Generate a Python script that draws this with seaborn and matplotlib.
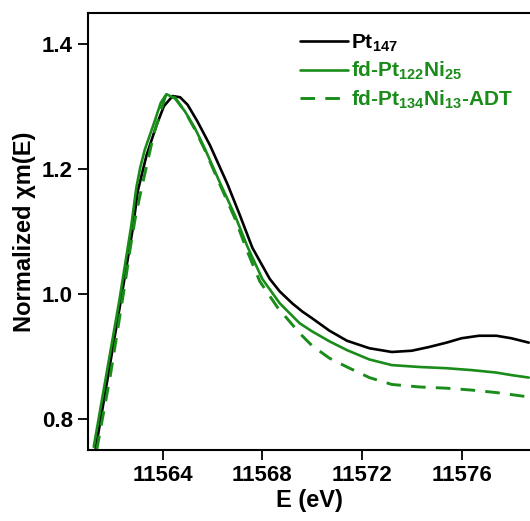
import matplotlib
matplotlib.use("Agg")
import matplotlib.pyplot as plt
import seaborn as sns
import pandas as pd
from matplotlib.lines import Line2D

# ---- data ----
e_pt147 = [11561.3, 11562.3, 11562.8, 11563.0, 11563.35, 11563.75, 11564.05, 11564.4,
           11564.7, 11565.0, 11565.4, 11565.9, 11566.6, 11567.1, 11567.6, 11568.3,
           11568.7, 11569.2, 11569.6, 11570.0, 11570.7, 11571.4, 11572.3, 11573.2,
           11574.0, 11574.7, 11575.4, 11576.0, 11576.7, 11577.4, 11578.0, 11578.7]
y_pt147 = [0.750, 0.985, 1.105, 1.165, 1.222, 1.270, 1.301, 1.317,
           1.315, 1.303, 1.276, 1.238, 1.176, 1.126, 1.074, 1.024,
           1.004, 0.985, 0.972, 0.961, 0.941, 0.925, 0.913, 0.907,
           0.909, 0.915, 0.922, 0.929, 0.933, 0.933, 0.929, 0.922]

e_ptni = [11561.23, 11562.26, 11562.74, 11562.94, 11563.1, 11563.28, 11563.68, 11563.92,
          11564.15, 11564.5, 11564.9, 11565.3, 11565.7, 11566.3, 11566.9, 11567.4,
          11568.0, 11568.7, 11569.5, 11570.0, 11570.7, 11571.4, 11572.3, 11573.2,
          11574.3, 11575.4, 11576.4, 11577.4, 11578.0, 11578.7]
y_ptni = [0.755, 0.990, 1.110, 1.170, 1.203, 1.231, 1.277, 1.306,
          1.320, 1.313, 1.292, 1.265, 1.232, 1.178, 1.126, 1.076,
          1.024, 0.985, 0.953, 0.940, 0.924, 0.910, 0.895, 0.886,
          0.883, 0.881, 0.878, 0.874, 0.870, 0.866]

e_adt = [11561.35, 11561.9, 11562.5, 11562.7, 11562.9, 11563.1, 11563.37, 11563.64,
         11563.95, 11564.15, 11564.5, 11564.9, 11565.3, 11565.7, 11566.3, 11566.9,
         11567.4, 11567.9, 11568.6, 11569.5, 11570.0, 11570.7, 11571.4, 11572.3,
         11573.2, 11574.3, 11575.4, 11576.4, 11577.4, 11578.7]
y_adt = [0.750, 0.870, 1.020, 1.074, 1.122, 1.160, 1.208, 1.256,
         1.296, 1.322, 1.314, 1.292, 1.263, 1.230, 1.175, 1.121,
         1.068, 1.020, 0.979, 0.937, 0.917, 0.897, 0.883, 0.866,
         0.855, 0.851, 0.849, 0.846, 0.842, 0.835]

x_ticks = [11564, 11568, 11572, 11576]
y_ticks = [0.8, 1.0, 1.2, 1.4]

GREEN = "#1a8c1a"

sns.set_theme(style="white")
plt.rcParams["font.family"] = ["Liberation Sans", "DejaVu Sans"]
plt.rcParams["font.weight"] = "bold"
plt.rcParams["mathtext.fontset"] = "custom"
plt.rcParams["mathtext.rm"] = "Liberation Sans:bold"
plt.rcParams["mathtext.it"] = "Liberation Sans:bold"
plt.rcParams["mathtext.bf"] = "Liberation Sans:bold"
plt.rcParams["lines.solid_joinstyle"] = "round"
plt.rcParams["lines.dash_joinstyle"] = "round"

fig = plt.figure(figsize=(5.30, 5.21), dpi=100)
ax = fig.add_axes([88/530, 1-450/521, 1-88/530, (450-13)/521])

df1 = pd.DataFrame({"E": e_pt147, "y": y_pt147})
df2 = pd.DataFrame({"E": e_ptni, "y": y_ptni})
df3 = pd.DataFrame({"E": e_adt, "y": y_adt})

sns.lineplot(data=df1, x="E", y="y", ax=ax, color="black", lw=1.9, sort=False)
sns.lineplot(data=df2, x="E", y="y", ax=ax, color=GREEN, lw=1.9, sort=False)
sns.lineplot(data=df3, x="E", y="y", ax=ax, color=GREEN, lw=2.1, sort=False,
             dashes=False, linestyle=(0, (5, 3.5)))

ax.set_xlim(11561.0, 11578.75)
ax.set_ylim(0.75, 1.45)
ax.set_xticks(x_ticks)
ax.set_yticks(y_ticks)
ax.set_xticklabels([str(t) for t in x_ticks])
ax.set_yticklabels([f"{t:.1f}" for t in y_ticks])

for s in ["left", "bottom", "top"]:
    ax.spines[s].set_visible(True)
    ax.spines[s].set_color("black")
    ax.spines[s].set_linewidth(1.5)
ax.spines["right"].set_visible(False)

ax.tick_params(axis="both", which="major", direction="out", length=7, width=1.3,
               color="black", labelsize=16, labelcolor="black", pad=4)
ax.tick_params(axis="x", top=False, bottom=True)
ax.tick_params(axis="y", left=True, right=False)
for lab in ax.get_xticklabels() + ax.get_yticklabels():
    lab.set_fontweight("bold")

ax.set_xlabel("E (eV)", fontsize=17, fontweight="bold", labelpad=2, color="black")
ax.set_ylabel("Normalized χm(E)", fontsize=17, fontweight="bold", labelpad=4, color="black")

handles = [
    Line2D([], [], color="black", lw=1.9),
    Line2D([], [], color=GREEN, lw=1.9),
    Line2D([], [], color=GREEN, lw=2.1, linestyle=(0, (5, 3.5))),
]
labels = ["Pt$_{147}$", "fd-Pt$_{122}$Ni$_{25}$", "fd-Pt$_{134}$Ni$_{13}$-ADT"]
leg = ax.legend(handles, labels, loc="upper left", bbox_to_anchor=(0.46, 0.975),
                frameon=False, fontsize=15, handlelength=2.3, handletextpad=0.15,
                labelspacing=0.3, borderaxespad=0,
                labelcolor=["black", GREEN, GREEN])
for t in leg.get_texts():
    t.set_fontweight("bold")

fig.savefig("out.png", dpi=100)
